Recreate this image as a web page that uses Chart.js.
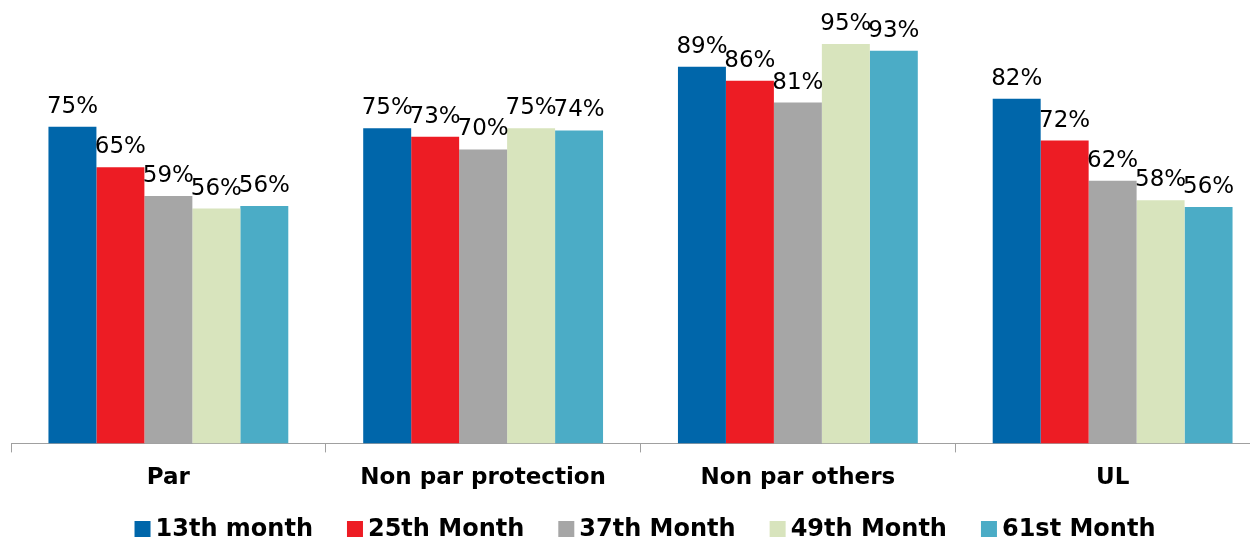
<!DOCTYPE html>
<html>
<head>
<meta charset="utf-8">
<script src="https://cdn.jsdelivr.net/npm/chart.js@4.4.1/dist/chart.umd.min.js"></script>
<style>
  html, body { margin: 0; padding: 0; background: #fff; overflow: hidden; }
  /* the original plot runs a little past the right edge of the picture */
  #wrap { width: 1270px; height: 541px; }
</style>
</head>
<body>
<div id="wrap"><canvas id="chart"></canvas></div>
<script>
const categories = ['Par', 'Non par protection', 'Non par others', 'UL'];
const seriesNames = ['13th month', '25th Month', '37th Month', '49th Month', '61st Month'];

const month13 = [75, 74.6, 89.2, 81.6];
const month25 = [65.4, 72.6, 85.9, 71.7];
const month37 = [58.6, 69.6, 80.7, 62.2];
const month49 = [55.6, 74.6, 94.6, 57.6];
const month61 = [56.2, 74.1, 93.0, 56.0];

const colors = ['#0066AA', '#ED1C24', '#A6A6A6', '#D8E4BD', '#4BACC6'];

const datasets = [month13, month25, month37, month49, month61].map((values, i) => {
  return {
    label: seriesNames[i],
    data: values,
    backgroundColor: colors[i],
    borderWidth: 0
  };
});

// percentage above each bar
const valueLabels = {
  id: 'valueLabels',
  afterDatasetsDraw(chart) {
    const ctx = chart.ctx;
    ctx.save();
    ctx.font = '23px "DejaVu Sans"';
    ctx.fillStyle = '#000';
    ctx.textAlign = 'center';
    ctx.textBaseline = 'alphabetic';
    chart.data.datasets.forEach((dataset, i) => {
      chart.getDatasetMeta(i).data.forEach((bar, j) => {
        ctx.fillText(Math.round(dataset.data[j]) + '%', bar.x, bar.y - 14);
      });
    });
    ctx.restore();
  }
};

// legend drawn by hand so the spacing matches the original
const bottomLegend = {
  id: 'bottomLegend',
  afterDraw(chart) {
    const ctx = chart.ctx;
    const box = 16;
    const gap = 5;
    const spacing = 34;
    const centerX = 645;
    const centerY = 529;
    ctx.save();
    ctx.font = 'bold 24px "DejaVu Sans"';
    ctx.textBaseline = 'middle';
    ctx.textAlign = 'left';
    const widths = seriesNames.map((name) => ctx.measureText(name).width);
    const total = widths.reduce((sum, w) => sum + box + gap + w, 0) + spacing * (seriesNames.length - 1);
    let x = centerX - total / 2;
    seriesNames.forEach((name, i) => {
      ctx.fillStyle = colors[i];
      ctx.fillRect(x, centerY - box / 2, box, box);
      ctx.fillStyle = '#000';
      ctx.fillText(name, x + box + gap, centerY + 1);
      x += box + gap + widths[i] + spacing;
    });
    ctx.restore();
  }
};

new Chart(document.getElementById('chart'), {
  type: 'bar',
  data: {
    labels: categories,
    datasets: datasets
  },
  options: {
    responsive: true,
    maintainAspectRatio: false,
    animation: false,
    layout: {
      padding: { left: 11, right: 0, top: 0, bottom: 37 }
    },
    datasets: {
      bar: {
        categoryPercentage: 0.762,
        barPercentage: 1
      }
    },
    scales: {
      x: {
        grid: {
          display: true,
          drawOnChartArea: false,
          drawTicks: true,
          tickLength: 9,
          color: '#A0A0A0',
          offset: true
        },
        border: { display: true, color: '#A0A0A0', width: 1 },
        ticks: {
          color: '#000',
          font: { family: 'DejaVu Sans', size: 23, weight: 'bold' },
          padding: 12
        }
      },
      y: {
        display: false,
        min: 0,
        max: 105
      }
    },
    plugins: {
      legend: { display: false },
      tooltip: { enabled: false }
    }
  },
  plugins: [valueLabels, bottomLegend]
});
</script>
</body>
</html>
